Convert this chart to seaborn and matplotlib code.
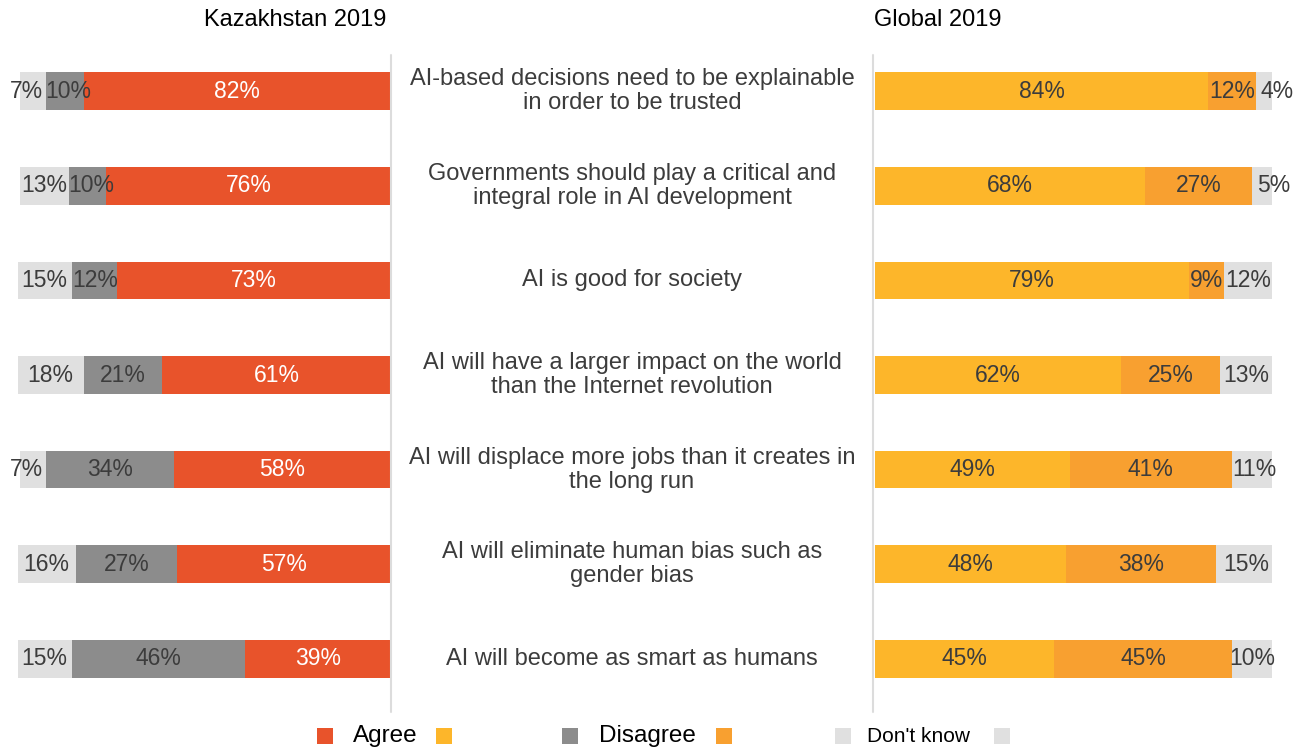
import matplotlib.pyplot as plt
import matplotlib.transforms as mtransforms
from matplotlib.lines import Line2D
from matplotlib.patches import Rectangle
import seaborn as sns
import pandas as pd

# --- Data
questions = [
    "AI-based decisions need to be explainable\nin order to be trusted",
    "Governments should play a critical and\nintegral role in AI development",
    "AI is good for society",
    "AI will have a larger impact on the world\nthan the Internet revolution",
    "AI will displace more jobs than it creates in\nthe long run",
    "AI will eliminate human bias such as\ngender bias",
    "AI will become as smart as humans",
]
kz_agree = [82, 76, 73, 61, 58, 57, 39]
kz_disagree = [10, 10, 12, 21, 34, 27, 46]
kz_dontknow = [7, 13, 15, 18, 7, 16, 15]

gl_agree = [84, 68, 79, 62, 49, 48, 45]
gl_disagree = [12, 27, 9, 25, 41, 38, 45]
gl_dontknow = [4, 5, 12, 13, 11, 15, 10]

panel_titles = ["Kazakhstan 2019", "Global 2019"]
legend_labels = ["Agree", "Disagree", "Don't know"]

# --- Style
sns.set_style("white")
plt.rcParams['font.family'] = ['Liberation Sans', 'DejaVu Sans']

KZ_COLORS = ['#E8532B', '#8C8C8C', '#E0E0E0']
GL_COLORS = ['#FDB62A', '#F8A030', '#E0E0E0']
TEXT_DARK = '#3C3C3C'
VAL_FS = 16.5

W, H = 1308, 750
fig = plt.figure(figsize=(W / 100, H / 100), dpi=100)

bottom = 1 - 706 / H
height = 662 / H
ax_l = fig.add_axes([18 / W, bottom, (391 - 18) / W, height])
ax_r = fig.add_axes([875 / W, bottom, 397 / W, height])


def draw_panel(ax, agree, disagree, dontknow, colors, agree_text_color, right_side=False):
    df = pd.DataFrame({
        'Question': questions,
        'Agree': agree,
        'Disagree': disagree,
        'DontKnow': dontknow,
    })
    df['c1'] = df['Agree']
    df['c2'] = df['Agree'] + df['Disagree']
    df['c3'] = df['c2'] + df['DontKnow']

    # stacked bars: longest first, then overlay
    for col, color in zip(['c3', 'c2', 'c1'], colors[::-1]):
        sns.barplot(data=df, x=col, y='Question', orient='h', color=color,
                    width=0.4, saturation=1, ax=ax, linewidth=0)

    # value labels in the middle of each segment (nudged when crowded)
    for i, row in df.iterrows():
        segs = [(0, row['c1'], row['Agree'], agree_text_color),
                (row['c1'], row['c2'], row['Disagree'], TEXT_DARK),
                (row['c2'], row['c3'], row['DontKnow'], TEXT_DARK)]
        for k, (start, end, val, tc) in enumerate(segs):
            x, ha = (start + end) / 2, 'center'
            if right_side and k == 2 and val < 8:
                x, ha = start + 1.2, 'left'
            elif not right_side and k == 2 and val < 8:
                x += 1.8
            elif not right_side and k == 1 and val <= 10:
                x -= 1.0
            ax.text(x, i, f"{val}%", ha=ha, va='center',
                    fontsize=VAL_FS, color=tc, clip_on=False)

    ax.set_ylim(6.5, -0.5)
    ax.axis('off')


draw_panel(ax_l, kz_agree, kz_disagree, kz_dontknow, KZ_COLORS, 'white')
ax_l.set_xlim(99.5, 0)
draw_panel(ax_r, gl_agree, gl_disagree, gl_dontknow, GL_COLORS, TEXT_DARK,
           right_side=True)
ax_r.set_xlim(0, 100)

# --- Question labels in the middle
trans = mtransforms.blended_transform_factory(fig.transFigure, ax_l.transData)
for i, q in enumerate(questions):
    ax_l.text(632 / W, i, q, transform=trans, ha='center', va='center',
              fontsize=17, color=TEXT_DARK, linespacing=1.12, clip_on=False)

# --- Separator lines
for xp in (391, 873):
    fig.add_artist(Line2D([xp / W, xp / W], [1 - 55 / H, 1 - 712 / H],
                          color='#DCDCDC', linewidth=1.5))

# --- Panel titles
fig.text(295 / W, 1 - 20 / H, panel_titles[0], ha='center', va='center',
         fontsize=17, color='black')
fig.text(938 / W, 1 - 20 / H, panel_titles[1], ha='center', va='center',
         fontsize=17, color='black')

# --- Legend (pairs of Kazakhstan / Global swatches)
legend_y = 1 - 736 / H
sq = 16
swatches = [(325, KZ_COLORS[0]), (444, GL_COLORS[0]),
            (570, KZ_COLORS[1]), (724, GL_COLORS[1]),
            (843, KZ_COLORS[2]), (1002, GL_COLORS[2])]
for cx, color in swatches:
    fig.add_artist(Rectangle(((cx - sq / 2) / W, legend_y - (sq / 2) / H),
                             sq / W, sq / H, facecolor=color,
                             edgecolor='none', transform=fig.transFigure))
legend_text = [(353, legend_labels[0], 17.5), (599, legend_labels[1], 17.5),
               (867, legend_labels[2], 15)]
for lx, lab, fs in legend_text:
    fig.text(lx / W, legend_y, lab, ha='left', va='center', fontsize=fs,
             color='black')

plt.savefig('out.png', dpi=100)
plt.close()
